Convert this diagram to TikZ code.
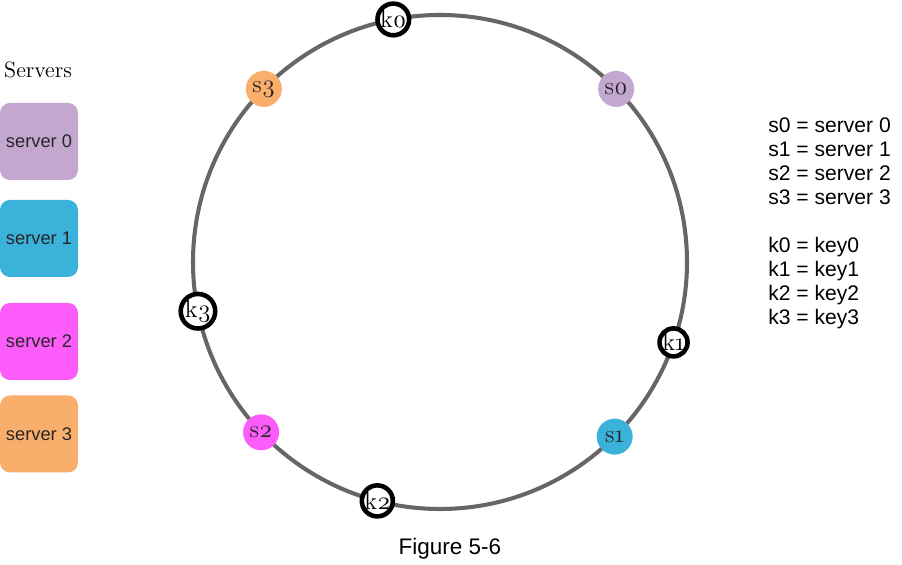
\documentclass[tikz,border=0pt]{standalone}
\usepackage{fontspec}
\newfontfamily\arialfont{Liberation Sans}
\newfontfamily\osfont{Latin Modern Roman}[Numbers=OldStyle]
\usepackage{xcolor}
\usetikzlibrary{calc, positioning}
\definecolor{srvzero}{HTML}{C3A7CF}
\definecolor{srvone}{HTML}{3AB2D9}
\definecolor{srvtwo}{HTML}{FC5CFA}
\definecolor{srvthree}{HTML}{F9AE6C}
\definecolor{ringgray}{HTML}{666666}
\tikzstyle{srv}=[circle, inner sep=0pt, minimum size=0.72cm, text=black!85, font=\osfont\fontsize{14}{16}\selectfont]
\tikzstyle{key}=[circle, draw=black, line width=2.6pt, fill=white, inner sep=0pt, minimum size=0.56cm, font=\osfont\fontsize{14}{16}\selectfont]
\tikzstyle{srvbox}=[rectangle, rounded corners=0.2cm, minimum width=1.56cm, minimum height=1.54cm, text=black!85, font=\arialfont\fontsize{10.4}{12}\selectfont]
\tikzstyle{legend}=[anchor=west, align=left, inner sep=0pt, font=\arialfont\fontsize{12}{13.66}\selectfont]

\begin{document}
\begin{tikzpicture}
\useasboundingbox (0,0) rectangle (18.04,11.3);

% Hash ring
\coordinate (c) at (8.80,6.06);
\draw[ringgray, line width=2.3pt] (c) circle (4.94);

% Servers on the ring
\node[srv, fill=srvzero] (s0) at ($(c)+(44.5:4.94)$) {s0};
\node[srv, fill=srvone] (s1) at ($(c)+(-45:4.94)$) {s1};
\node[srv, fill=srvtwo] (s2) at ($(c)+(-136.4:4.94)$) {s2};
\node[srv, fill=srvthree] (s3) at ($(c)+(135.5:4.94)$) {s3};

% Keys on the ring
\node[key] (k0) at ($(c)+(100.9:4.94)$) {k0};
\node[key] (k1) at ($(c)+(-19:4.94)$) {k1};
\node[key] (k2) at ($(c)+(-104.7:4.94)$) {k2};
\node[key] (k3) at ($(c)+(191.5:4.94)$) {k3};

% Server list
\node[font=\fontsize{12.6}{14}\selectfont] (servers) at (0.76,9.9) {Servers};
\node[srvbox, fill=srvzero] (box0) at (0.78,8.47) {server 0};
\node[srvbox, fill=srvone] (box1) at (0.78,6.53) {server 1};
\node[srvbox, fill=srvtwo] (box2) at (0.78,4.47) {server 2};
\node[srvbox, fill=srvthree] (box3) at (0.78,2.62) {server 3};

% Legend
\node[legend] (legs) at (15.36,8.08) {s0 = server 0\\ s1 = server 1\\ s2 = server 2\\ s3 = server 3};
\node[legend] (legk) at (15.36,5.63) {k0 = key0\\ k1 = key1\\ k2 = key2\\ k3 = key3};

\node[font=\arialfont\fontsize{12.8}{14}\selectfont] (caption) at (9.0,0.32) {Figure 5-6};

\end{tikzpicture}
\end{document}
